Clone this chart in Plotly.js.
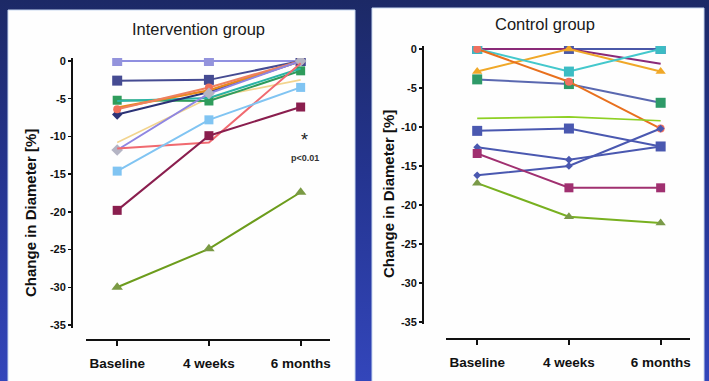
<!DOCTYPE html>
<html>
<head>
<meta charset="utf-8">
<script src="https://cdn.plot.ly/plotly-3.0.1.min.js"></script>
<style>
html,body{margin:0;padding:0;}
body{width:709px;height:381px;overflow:hidden;background:linear-gradient(to bottom,#1c2966 0%,#24348f 45%,#3346bb 100%);}
#chart{width:709px;height:381px;}
</style>
</head>
<body>
<div id="chart"></div>
<script>
// ---- data ----
const timepoints = ["Baseline", "4 weeks", "6 months"];
const yTickVals = [0, -5, -10, -15, -20, -25, -30, -35];
const yTickText = ["0", "-5", "-10", "-15", "-20", "-25", "-30", "-35"];

// Intervention group (change in diameter, %)
const intLavender   = [0, 0, 0];
const intSlate      = [-2.6, -2.5, 0];
const intTeal       = [-5.3, -4.9, -1.0];
const intGreen      = [-5.2, -5.3, -1.3];
const intOrange     = [-6.2, -3.9, 0];
const intSalmon     = [-6.4, -3.5, 0];
const intNavy       = [-7.1, -4.1, 0];
const intTan        = [-10.8, -4.9, -2.5];
const intViolet     = [-11.8, -4.3, 0];
const intPink       = [-11.6, -10.8, -0.3];
const intLightBlue  = [-14.6, -7.8, -3.5];
const intMaroon     = [-19.8, -9.9, -6.1];
const intOlive      = [-30.0, -24.9, -17.4];

// Control group (change in diameter, %)
const ctlBlueTop    = [0, 0, 0];
const ctlPurple     = [0, 0, -1.9];
const ctlTeal       = [0, -2.9, 0];
const ctlYellow     = [-2.9, 0, -2.9];
const ctlOrange     = [0, -4.2, -10.2];
const ctlSlateGreen = [-3.9, -4.5, -6.9];
const ctlLime       = [-8.9, -8.7, -9.2];
const ctlBlueSq     = [-10.5, -10.2, -12.5];
const ctlBluePlus   = [-12.6, -14.2, -12.5];
const ctlBlueDiam   = [-16.2, -15.0, -10.2];
const ctlMaroon     = [-13.4, -17.8, -17.8];
const ctlGreenTri   = [-17.2, -21.5, -22.3];

function tr(y, lineColor, symbol, markerColor, size, xa, ya, lw) {
  const t = {
    x: timepoints, y: y, type: 'scatter', xaxis: xa, yaxis: ya,
    mode: symbol ? 'lines+markers' : 'lines',
    line: {color: lineColor, width: lw || 2},
    showlegend: false, hoverinfo: 'skip'
  };
  if (symbol) t.marker = {symbol: symbol, size: size || 9, color: markerColor || lineColor};
  return t;
}

const data = [
  // intervention
  tr(intLavender, '#8f8fe0', 'square', '#9393dc', 10, 'x', 'y'),
  tr(intSlate, '#454b92', 'square', '#454b92', 10, 'x', 'y'),
  tr(intTan, '#f2d48e', null, null, 0, 'x', 'y', 1.6),
  tr(intGreen, '#2f9c5c', 'square', '#2f9c5c', 9, 'x', 'y'),
  tr(intTeal, '#2ab4a6', null, null, 0, 'x', 'y'),
  tr(intNavy, '#2b3276', 'diamond', '#2b3276', 8, 'x', 'y'),
  tr(intOrange, '#e8891e', null, null, 0, 'x', 'y', 2.4),
  tr(intSalmon, '#ee8060', 'circle', '#f0705c', 8, 'x', 'y'),
  tr(intViolet, '#8f86e2', 'diamond', '#b4b4c4', 9, 'x', 'y'),
  tr(intPink, '#f06a70', null, null, 0, 'x', 'y'),
  tr(intLightBlue, '#80c4f2', 'square', '#80c4f2', 9, 'x', 'y'),
  tr(intMaroon, '#8a1e4e', 'square', '#8a1e4e', 9, 'x', 'y'),
  tr(intOlive, '#6c9c1c', 'triangle-up', '#7a9a44', 10, 'x', 'y'),
  // control
  tr(ctlBlueTop, '#4a58a8', 'square', '#4a58a8', 10, 'x2', 'y2'),
  tr(ctlPurple, '#8a2a78', null, null, 0, 'x2', 'y2'),
  tr(ctlYellow, '#f0a828', 'triangle-up', '#f0a828', 9, 'x2', 'y2'),
  tr(ctlTeal, '#44c8cc', 'square', '#3cbcc4', 10, 'x2', 'y2'),
  tr(ctlSlateGreen, '#5a68b0', 'square', '#2e9a68', 10, 'x2', 'y2'),
  tr(ctlOrange, '#e8701e', 'circle', '#f07060', 8, 'x2', 'y2'),
  tr(ctlLime, '#8ed024', null, null, 0, 'x2', 'y2', 1.6),
  tr(ctlBlueSq, '#4a58b0', 'square', '#4a58b0', 10, 'x2', 'y2'),
  tr(ctlBluePlus, '#4a58b0', 'diamond', '#4a58b0', 6, 'x2', 'y2'),
  tr(ctlBlueDiam, '#4a58b0', 'diamond', '#4a58b0', 6, 'x2', 'y2'),
  tr(ctlMaroon, '#a03070', 'square', '#a03070', 9, 'x2', 'y2'),
  tr(ctlGreenTri, '#78b020', 'triangle-up', '#7a9a48', 9, 'x2', 'y2')
];

const FONT = 'Liberation Sans, Arial, sans-serif';
const W = 709, H = 381;
const px = v => v / W;
const py = v => 1 - v / H;

function xAxis(d0, d1, pos) {
  return {
    domain: [px(d0), px(d1)], anchor: 'free', position: py(pos),
    type: 'category', range: [-0.34, 2.32], fixedrange: true,
    showline: true, linecolor: '#111', linewidth: 2,
    ticks: 'outside', ticklen: 5, tickwidth: 2, tickcolor: '#111',
    ticklabelstandoff: 6,
    showgrid: false, zeroline: false,
    tickfont: {family: FONT, size: 13.5, color: '#111', weight: 'bold'}
  };
}
function yAxis(d0, d1, pos, r0, r1) {
  return {
    domain: [py(d1), py(d0)], anchor: 'free', position: px(pos),
    range: [r0, r1], fixedrange: true,
    tickvals: yTickVals, ticktext: yTickText,
    showline: true, linecolor: '#111', linewidth: 2,
    ticks: 'outside', ticklen: 3, tickwidth: 1.5, tickcolor: '#111',
    showgrid: false, zeroline: false,
    tickfont: {family: FONT, size: 11, color: '#111', weight: 'bold'}
  };
}

function ann(text, x, y, font, extra) {
  return Object.assign({text: text, xref: 'paper', yref: 'paper', x: px(x), y: py(y),
    xanchor: 'center', yanchor: 'middle', showarrow: false, font: font}, extra || {});
}

const layout = {
  width: W, height: H,
  margin: {l: 0, r: 0, t: 0, b: 0},
  paper_bgcolor: 'rgba(0,0,0,0)',
  plot_bgcolor: 'rgba(0,0,0,0)',
  xaxis: xAxis(86, 330, 340),
  yaxis: yAxis(58, 328, 72, -35.4, 0.4),
  xaxis2: xAxis(446, 690, 339),
  yaxis2: yAxis(46, 324, 423, -35.26, 0.38),
  shapes: [
    {type: 'rect', xref: 'paper', yref: 'paper', x0: px(8), x1: px(355), y0: py(10), y1: py(382),
     fillcolor: '#fefefe', line: {color: '#c8d8f0', width: 1}, layer: 'below'},
    {type: 'rect', xref: 'paper', yref: 'paper', x0: px(372), x1: px(704), y0: py(8), y1: py(382),
     fillcolor: '#fefefe', line: {color: '#c8d8f0', width: 1}, layer: 'below'}
  ],
  annotations: [
    ann('Intervention group', 198, 29, {family: FONT, size: 16.5, color: '#1a1a1a'}),
    ann('Control group', 545, 24, {family: FONT, size: 16.5, color: '#1a1a1a'}),
    ann('Change in Diameter [%]', 30, 213, {family: FONT, size: 15, color: '#111', weight: 'bold'}, {textangle: -90}),
    ann('Change in Diameter [%]', 388, 194, {family: FONT, size: 15, color: '#111', weight: 'bold'}, {textangle: -90}),
    ann('*', 304, 140, {family: FONT, size: 18, color: '#222'}),
    ann('p<0.01', 305, 158, {family: FONT, size: 9, color: '#333', weight: 'bold'})
  ]
};

Plotly.newPlot('chart', data, layout, {displayModeBar: false, staticPlot: true});
</script>
</body>
</html>
